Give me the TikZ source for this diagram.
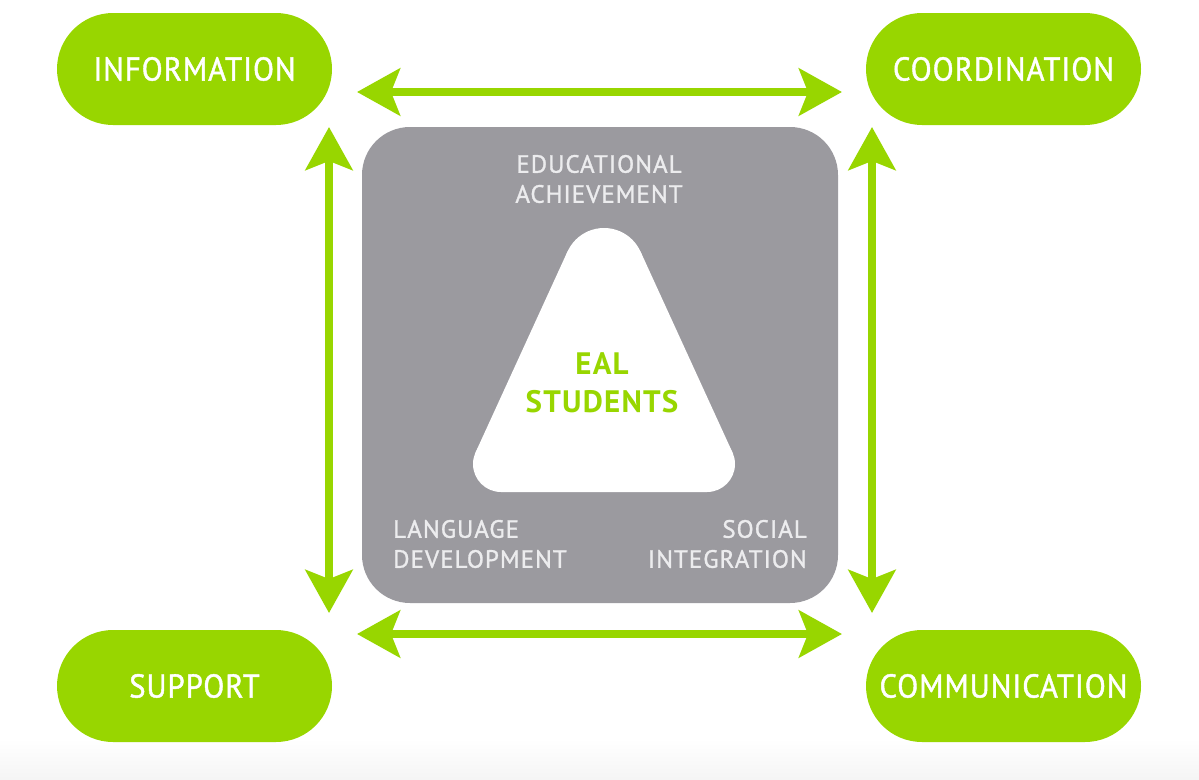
\documentclass[tikz,border=0pt]{standalone}
\usepackage{fontspec}
\setmainfont{PT Sans}
\newfontfamily\dinfont[FakeStretch=0.93,LetterSpace=3,FakeBold=1.3]{PT Sans}
\newfontfamily\lblfont[FakeStretch=1.0,LetterSpace=4,FakeBold=1.2]{PT Sans}
\newfontfamily\ealfont[LetterSpace=4]{PT Sans}
\usetikzlibrary{arrows.meta}
\definecolor{eal}{RGB}{152,214,0}
\definecolor{boxgray}{RGB}{155,154,159}
\definecolor{lbl}{RGB}{236,236,238}
\begin{document}
\begin{tikzpicture}[x=1pt,y=-1pt,
  pill/.style={fill=eal, text=white, minimum width=275pt, minimum height=112pt,
    rounded corners=56pt, inner sep=0pt, font=\dinfont\fontsize{33}{36}\selectfont},
  lbltext/.style={text=lbl, inner sep=0pt, font=\lblfont\fontsize{25}{30}\selectfont},
  biarrow/.style={draw=eal, line width=8pt,
    {Stealth[length=43pt,width=47pt,inset=9pt]}-{Stealth[length=43pt,width=47pt,inset=9pt]}}]
\useasboundingbox (0,0) rectangle (1199,779);
\shade[top color=white, bottom color=black!4] (0,738) rectangle (1199,779);

% central box
\node[fill=boxgray, minimum width=476pt, minimum height=476pt, rounded corners=48pt, inner sep=0pt] (core) at (600,365) {};

% rounded triangle
\fill[white] (567.6,251.3) -- (475.6,452.3) -- (501,492) -- (707,492) -- (732.4,452.3) -- (640.4,251.3) -- cycle;
\fill[white] (604,268) circle[radius=40pt];
\fill[white] (501,464) circle[radius=28pt];
\fill[white] (707,464) circle[radius=28pt];

% labels in the box
\node[lbltext, align=center] (edu) at (599,179) {EDUCATIONAL\\ACHIEVEMENT};
\node[lbltext, align=left, anchor=west] (lang) at (393,544) {LANGUAGE\\DEVELOPMENT};
\node[lbltext, align=right, anchor=east] (soc) at (807,544) {SOCIAL\\INTEGRATION};
\node[text=eal, inner sep=0pt, align=center, font=\ealfont\bfseries\fontsize{31}{38}\selectfont] (eal) at (602,383) {EAL\\STUDENTS};

% pills
\node[pill] (info) at (194.5,69) {INFORMATION};
\node[pill] (coord) at (1003.5,69) {COORDINATION};
\node[pill] (supp) at (194.5,686) {SUPPORT};
\node[pill] (comm) at (1003.5,686) {COMMUNICATION};

% arrow ends
\coordinate (tl) at (357,92);
\coordinate (tr) at (842,92);
\coordinate (bl) at (357,634);
\coordinate (br) at (842,634);
\coordinate (lt) at (329,127);
\coordinate (lb) at (329,613);
\coordinate (rt) at (872,127);
\coordinate (rb) at (872,613);

\draw[biarrow] (tl) -- (tr);
\draw[biarrow] (bl) -- (br);
\draw[biarrow] (lt) -- (lb);
\draw[biarrow] (rt) -- (rb);
\end{tikzpicture}
\end{document}
